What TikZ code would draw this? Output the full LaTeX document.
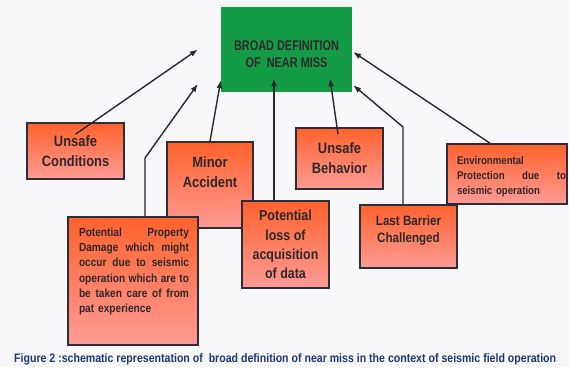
\documentclass[tikz,border=0pt]{standalone}
\usepackage{fontspec}
\newfontfamily\boxfont{Liberation Sans}[FakeStretch=0.86]
\newfontfamily\titlefont{Liberation Sans}[FakeStretch=0.78]
\usetikzlibrary{positioning,arrows.meta}

\definecolor{nmgreen}{RGB}{20,155,70}
\definecolor{boxtop}{RGB}{255,98,44}
\definecolor{boxbot}{RGB}{255,155,150}
\definecolor{boxline}{RGB}{45,45,55}
\definecolor{boxtext}{RGB}{45,40,45}
\definecolor{arrowline}{RGB}{40,40,50}
\definecolor{capblue}{RGB}{30,55,120}
\definecolor{pagebg}{RGB}{248,247,250}

% one justified line of a fixed width
\newcommand{\fullline}[2]{\leavevmode\hbox to #1{#2}\\}

\begin{document}
\begin{tikzpicture}[
x=1pt, y=-1pt,
box/.style={
draw=boxline,
line width=1.6pt,
top color=boxtop,
bottom color=boxbot,
inner sep=0pt,
text=boxtext,
align=center,
font=\boxfont\bfseries\fontsize{15}{20}\selectfont
},
lbl/.style={
inner sep=0pt,
text=boxtext,
align=center,
font=\boxfont\bfseries\fontsize{15}{20}\selectfont
},
small/.style={
font=\boxfont\bfseries\fontsize{11.8}{15.3}\selectfont
},
arr/.style={
draw=arrowline,
line width=1.4pt,
-{Latex[length=8pt,width=6pt]}
}
]

\fill[pagebg] (0,0) rectangle (569,367);
\useasboundingbox (0,0) rectangle (569,367);

\node (nearmiss) [fill=nmgreen, minimum width=131pt, minimum height=85pt, inner sep=0pt]
at (286.5,49.5) {};
\node (nmlbl) [lbl, font=\titlefont\bfseries\fontsize{14}{17}\selectfont]
at (286.5,54) {BROAD DEFINITION\\OF~ NEAR MISS};

\node (cond) [box, minimum width=97pt, minimum height=56pt]
at (75.5,151) {Unsafe\\Conditions};

\node (minor) [box, minimum width=86pt, minimum height=86pt]
at (210,185) {};
\node (minorlbl) [lbl] at (210,172) {Minor\\Accident};

\node (ppd) [box, minimum width=130pt, minimum height=128pt]
at (133,281) {};
\node (ppdlbl) [lbl, small, text width=110pt, align=left] at (134,271.5)
{\fullline{110pt}{Potential\hfill Property}%
\fullline{110pt}{Damage\hfill which\hfill might}%
\fullline{110pt}{occur\hfill due\hfill to\hfill seismic}%
\fullline{110pt}{operation\hfill which\hfill are\hfill to}%
\fullline{110pt}{be\hfill taken\hfill care\hfill of\hfill from}%
pat experience};

\node (loss) [box, minimum width=87pt, minimum height=87pt, font=\boxfont\bfseries\fontsize{14.5}{19.3}\selectfont]
at (285.5,244.5) {Potential\\loss of\\acquisition\\of data};

\node (behav) [box, minimum width=87pt, minimum height=61pt]
at (339.5,158.5) {Unsafe\\Behavior};

\node (env) [box, minimum width=120pt, minimum height=60pt]
at (507,174) {};
\node (envlbl) [lbl, font=\boxfont\bfseries\fontsize{11.2}{15}\selectfont, text width=109pt, align=left]
at (511.5,177) {Environmental\\\fullline{109pt}{Protection\hfill due\hfill to}seismic operation};

\node (barrier) [box, minimum width=97pt, minimum height=63pt]
at (408.5,236.5) {};
\node (barrierlbl) [lbl, font=\boxfont\bfseries\fontsize{13.5}{17}\selectfont]
at (408.5,230.5) {Last Barrier\\Challenged};

\coordinate (tipcond) at ([xshift=-23pt]nearmiss.west);
\coordinate (tipppd) at ([xshift=-23pt,yshift=-34.5pt]nearmiss.west);
\coordinate (bendppd) at (145,158);
\coordinate (tipminor) at ([yshift=12pt]nearmiss.south west);
\coordinate (tiploss) at ([xshift=-12.5pt,yshift=14pt]nearmiss.south);
\coordinate (tipbehav) at ([xshift=43.5pt,yshift=14pt]nearmiss.south);
\coordinate (tipenv) at ([xshift=1pt,yshift=-2.5pt]nearmiss.east);
\coordinate (tipbarrier) at ([xshift=1pt,yshift=7pt]nearmiss.south east);
\coordinate (bendbarrier) at (403,127);

\draw[arr] ([yshift=-12pt]cond.north) -- (tipcond);
\draw[arr] ([xshift=12pt]ppd.north) -- (bendppd) -- (tipppd);
\draw[arr] (minor.north) -- (tipminor);
\draw[arr] ([xshift=-11.5pt]loss.north) -- (tiploss);
\draw[arr] ([xshift=-1.5pt,yshift=-7pt]behav.north) -- (tipbehav);
\draw[arr] ([xshift=-17pt]env.north) -- (tipenv);
\draw[arr] ([xshift=-5.5pt]barrier.north) -- (bendbarrier) -- (tipbarrier);

\node (caption) [anchor=base west, inner sep=0pt, text=capblue,
font=\boxfont\bfseries\fontsize{12.3}{14}\selectfont]
at (14,362.5) {Figure 2 :schematic representation of~ broad definition of near miss in the context of seismic field operation};

\end{tikzpicture}
\end{document}
